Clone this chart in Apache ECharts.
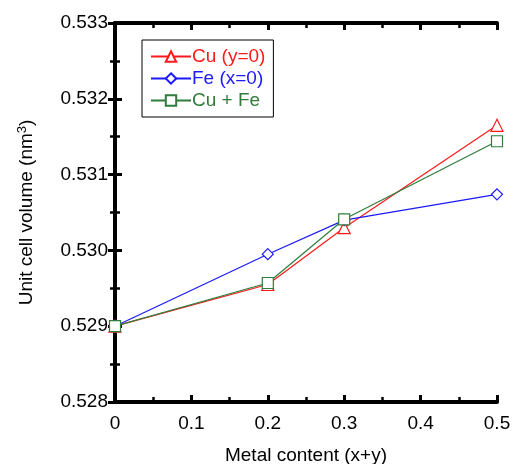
<!DOCTYPE html>
<html><head><meta charset="utf-8">
<script src="https://cdn.jsdelivr.net/npm/echarts@6/dist/echarts.min.js"></script>
<style>html,body{margin:0;padding:0;background:#fff}#c{width:518px;height:464px}</style>
</head><body><div id="c"></div>
<script>
const xValues = [0, 0.2, 0.3, 0.5];
const cuValues = [0.529, 0.52955, 0.5303, 0.53165];
const feValues = [0.529, 0.52995, 0.5304, 0.53074];
const cuFeValues = [0.529, 0.52957, 0.53041, 0.53144];
const seriesNames = ['Cu (y=0)', 'Fe (x=0)', 'Cu + Fe'];
const colors = ['#ff1a1a', '#1a1aff', '#2e7d3c'];
const symbols = ['triangle', 'diamond', 'rect'];
const symbolSizes = [12, 11, 11];
const allValues = [cuValues, feValues, cuFeValues];

const FONT = 'Liberation Sans, Arial, sans-serif';
const chart = echarts.init(document.getElementById('c'), null, {renderer: 'canvas'});
const axisLine = {show: true, lineStyle: {color: '#000', width: 4}};
const tickInside = {show: true, inside: true, length: 7, lineStyle: {color: '#000', width: 3}};
const minorInside = {show: true, splitNumber: 2, length: 5, lineStyle: {color: '#000', width: 2.5}};

function pairs(vals) { return xValues.map((x, i) => [x, vals[i]]); }

chart.setOption({
  backgroundColor: '#fff',
  animation: false,
  grid: {left: 115, right: 21, top: 23, bottom: 62, containLabel: false, outerBoundsMode: 'none'},
  legend: {
    orient: 'vertical', left: 142, top: 40,
    backgroundColor: '#fff', borderColor: '#000', borderWidth: 1,
    padding: [7, 8, 7, 8], itemGap: 3, itemWidth: 40, itemHeight: 13,
    data: seriesNames.map((n, i) => ({name: n, textStyle: {color: colors[i]}})),
    textStyle: {fontFamily: FONT, fontSize: 19, padding: [0, 0, 0, -4]}
  },
  xAxis: [{
    type: 'value', min: 0, max: 0.5, interval: 0.1,
    axisLine: axisLine, axisTick: tickInside, minorTick: minorInside,
    splitLine: {show: false},
    axisLabel: {color: '#000', fontFamily: FONT, fontSize: 19, margin: 12,
      formatter: v => v === 0 ? '0' : String(+v.toFixed(1))},
    name: 'Metal content (x+y)', nameLocation: 'middle', nameGap: 44,
    nameTextStyle: {color: '#000', fontFamily: FONT, fontSize: 19}
  }, {
    type: 'value', position: 'top', min: 0, max: 0.5, interval: 0.1,
    axisLine: axisLine, axisTick: tickInside, minorTick: minorInside,
    splitLine: {show: false}, axisLabel: {show: false}
  }],
  yAxis: [{
    type: 'value', min: 0.528, max: 0.533, interval: 0.001,
    axisLine: axisLine, axisTick: tickInside, minorTick: minorInside,
    splitLine: {show: false},
    axisLabel: {color: '#000', fontFamily: FONT, fontSize: 19, margin: 7,
      formatter: v => v.toFixed(3)},
    name: '{a|Unit cell volume (nm}{s|3}{a|)}', nameLocation: 'middle', nameGap: 78,
    nameTextStyle: {rich: {
      a: {color: '#000', fontFamily: FONT, fontSize: 19},
      s: {color: '#000', fontFamily: FONT, fontSize: 13, verticalAlign: 'top', padding: [0, 0, 8, 0]}
    }}
  }, {
    type: 'value', position: 'right', min: 0.528, max: 0.533, interval: 0.001,
    axisLine: axisLine, axisTick: tickInside, minorTick: minorInside,
    splitLine: {show: false}, axisLabel: {show: false}
  }],
  series: seriesNames.map((n, i) => ({
    name: n, type: 'line', data: pairs(allValues[i]),
    symbol: symbols[i], symbolSize: symbolSizes[i], showAllSymbol: true,
    itemStyle: {color: '#fff', borderColor: colors[i], borderWidth: 1.2},
    lineStyle: {color: colors[i], width: 1.2},
    z: 3 + i
  }))
});
</script></body></html>
